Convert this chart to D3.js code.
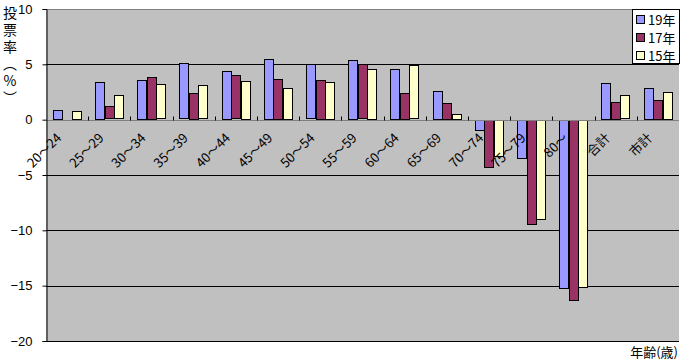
<!DOCTYPE html>
<html>
<head>
<meta charset="utf-8">
<script src="https://cdn.jsdelivr.net/npm/d3@7"></script>
<style>
  html, body { margin: 0; padding: 0; background: #fff; }
  svg { display: block; }
  text { font-family: "Liberation Sans", "Noto Sans CJK JP", sans-serif; }
  .jp { font-family: "Noto Sans CJK JP", sans-serif; }
</style>
</head>
<body>
<div id="chart"></div>
<script>
// 年齢別 投票率の増減 (%)
const categories = ['20～24', '25～29', '30～34', '35～39', '40～44', '45～49', '50～54',
  '55～59', '60～64', '65～69', '70～74', '75～79', '80～', '合計', '市計'];
const seriesNames = ['19年', '17年', '15年'];
const v19 = [0.9, 3.4, 3.6, 5.1, 4.4, 5.5, 5.0, 5.4, 4.6, 2.6, -1.0, -3.5, -15.3, 3.3, 2.9];
const v17 = [null, 1.2, 3.9, 2.4, 4.0, 3.7, 3.6, 5.0, 2.4, 1.5, -4.3, -9.5, -16.4, 1.6, 1.8];
const v15 = [0.8, 2.2, 3.2, 3.1, 3.5, 2.9, 3.4, 4.6, 4.9, 0.5, -3.3, -9.0, -15.2, 2.2, 2.5];
const colors = ['#9999FF', '#993366', '#FFFFCC'];
const yTicks = [10, 5, 0, -5, -10, -15, -20];

const W = 680, H = 364;
const plot = { left: 46, right: 679, top: 9, bottom: 341 };

const svg = d3.select('#chart').append('svg').attr('width', W).attr('height', H);

const x = d3.scaleBand().domain(categories).range([plot.left, plot.right]).padding(0);
const xs = d3.scaleBand().domain(seriesNames).range([0, x.bandwidth()])
  .paddingInner(0).paddingOuter(0.72);
const y = d3.scaleLinear().domain([-20, 10]).range([plot.bottom, plot.top]);

// plot background
svg.append('rect')
  .attr('x', plot.left).attr('y', plot.top)
  .attr('width', plot.right - plot.left).attr('height', plot.bottom - plot.top)
  .attr('fill', '#C0C0C0');

// gridlines
svg.append('g').selectAll('line').data(yTicks.filter(d => d !== 0)).enter().append('line')
  .attr('x1', plot.left).attr('x2', plot.right)
  .attr('y1', d => Math.round(y(d)) + 0.5).attr('y2', d => Math.round(y(d)) + 0.5)
  .attr('stroke', d => d === 10 ? '#808080' : '#000')
  .attr('stroke-width', 1);

// bars
const data = [v19, v17, v15];
const barG = svg.append('g');
data.forEach((vals, si) => {
  barG.selectAll('.b' + si)
    .data(vals.map((v, i) => ({ v, c: categories[i] })).filter(d => d.v != null))
    .enter().append('rect')
    .attr('x', d => Math.round(x(d.c) + xs(seriesNames[si])) + 0.5)
    .attr('y', d => Math.round(y(Math.max(0, d.v))) + 0.5)
    .attr('width', Math.round(xs.bandwidth()) - 1)
    .attr('height', d => Math.max(0, Math.round(Math.abs(y(d.v) - y(0))) - 1))
    .attr('fill', colors[si])
    .attr('stroke', '#000')
    .attr('stroke-width', 1);
});

// category axis (zero line) + tick marks
const y0 = Math.round(y(0)) + 0.5;
svg.append('line')
  .attr('x1', plot.left).attr('x2', plot.right).attr('y1', y0).attr('y2', y0)
  .attr('stroke', '#808080');
svg.append('g').selectAll('line').data(categories.slice(1)).enter().append('line')
  .attr('x1', d => Math.round(x(d)) + 0.5).attr('x2', d => Math.round(x(d)) + 0.5)
  .attr('y1', y0 - 4).attr('y2', y0)
  .attr('stroke', '#000');

// value axis
const yAxis = d3.axisLeft(y).tickValues(yTicks).tickSize(4).tickPadding(10);
const ya = svg.append('g').attr('transform', `translate(${plot.left + 0.5},0)`).call(yAxis);
ya.select('.domain').attr('stroke', '#000');
ya.selectAll('.tick line').attr('stroke', '#000');
ya.selectAll('.tick text').attr('font-size', 13).attr('fill', '#000')
  .style('font-family', '"Liberation Sans", sans-serif');

// category labels, rotated
svg.append('g').selectAll('text').data(categories).enter().append('text')
  .attr('class', 'jp')
  .attr('transform', d => `translate(${x(d) + x.bandwidth() / 2 - 8},${y(0) + 16}) rotate(-45)`)
  .attr('text-anchor', 'end')
  .attr('dy', '0.35em')
  .attr('font-size', 13)
  .attr('fill', '#000')
  .text(d => d);

// y axis title, vertical writing
svg.append('text')
  .attr('class', 'jp')
  .attr('x', 10).attr('y', 6)
  .style('writing-mode', 'vertical-rl')
  .style('text-orientation', 'upright')
  .attr('letter-spacing', 3)
  .attr('font-size', 14)
  .attr('fill', '#000')
  .text('投票率（%）');

// x axis title
svg.append('text')
  .attr('class', 'jp')
  .attr('x', 678).attr('y', 357)
  .attr('text-anchor', 'end')
  .attr('font-size', 13)
  .attr('fill', '#000')
  .text('年齢(歳)');

// legend
const lg = svg.append('g').attr('transform', 'translate(632,9)');
lg.append('rect').attr('x', 0.5).attr('y', 0.5).attr('width', 47).attr('height', 54)
  .attr('fill', '#fff').attr('stroke', '#000');
seriesNames.forEach((s, i) => {
  const row = lg.append('g').attr('transform', `translate(4,${11 + i * 18})`);
  row.append('rect').attr('x', 0.5).attr('y', -4.5).attr('width', 8).attr('height', 8)
    .attr('fill', colors[i]).attr('stroke', '#000');
  row.append('text').attr('class', 'jp').attr('x', 12).attr('y', 0).attr('dy', '0.35em')
    .attr('font-size', 13).attr('fill', '#000').text(s);
});
</script>
</body>
</html>
